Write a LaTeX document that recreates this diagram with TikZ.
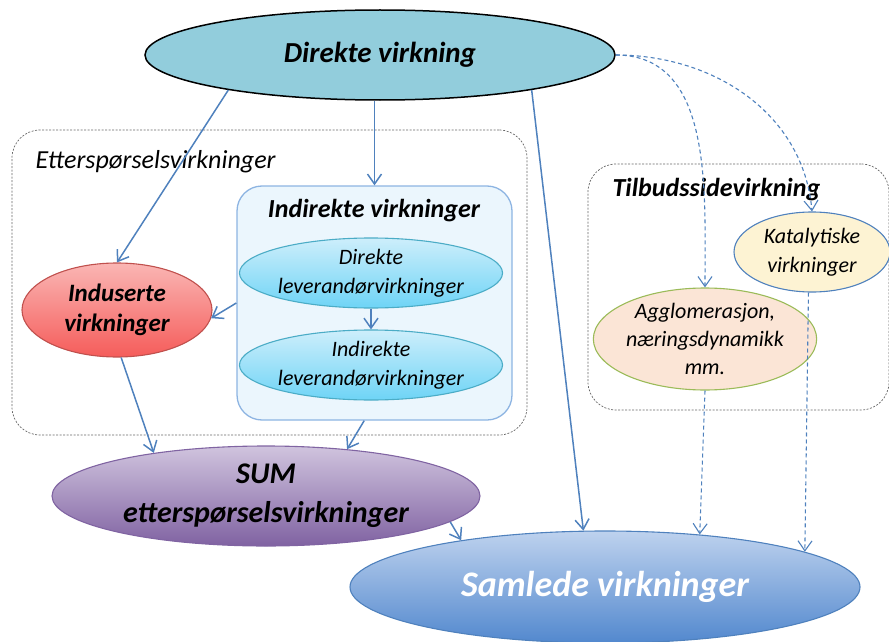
\documentclass[tikz,border=0pt]{standalone}
\usepackage{fontspec}
\setmainfont{Carlito}
\usetikzlibrary{arrows.meta,positioning,shapes.geometric}

\definecolor{arrowblue}{RGB}{79,129,189}
\definecolor{directfill}{RGB}{146,205,220}
\definecolor{boxfill}{RGB}{235,246,253}
\definecolor{boxline}{RGB}{141,180,226}
\definecolor{levtop}{RGB}{205,238,251}
\definecolor{levbottom}{RGB}{110,212,246}
\definecolor{levline}{RGB}{75,172,198}
\definecolor{redtop}{RGB}{250,182,180}
\definecolor{redbottom}{RGB}{245,92,90}
\definecolor{redline}{RGB}{192,80,77}
\definecolor{purpletop}{RGB}{208,196,222}
\definecolor{purplebottom}{RGB}{128,98,162}
\definecolor{purpleline}{RGB}{128,100,162}
\definecolor{totaltop}{RGB}{190,210,238}
\definecolor{totalbottom}{RGB}{82,136,206}
\definecolor{katalfill}{RGB}{253,243,211}
\definecolor{agglofill}{RGB}{251,229,214}
\definecolor{aggloline}{RGB}{155,187,89}

\begin{document}
\begin{tikzpicture}
	[x=1pt,y=-1pt,>={Straight Barb[length=10pt,width=14pt]},
	effect/.style={draw,shape=ellipse,inner sep=0pt,align=center,line width=1.1pt},
	group/.style={draw=black!60,dash pattern=on 2pt off 1.5pt,rounded corners=28pt,line width=0.7pt},
	flow/.style={->,draw=arrowblue,line width=1.5pt},
	supplyflow/.style={->,draw=arrowblue,dash pattern=on 4pt off 3pt,line width=1.1pt}]
	\useasboundingbox (0,0) rectangle (889,642);
	
	\node[group,minimum width=515pt,minimum height=305pt] (demand) at (269.5,282.5) {};
	\node[anchor=west,font=\fontsize{26}{30}\selectfont\itshape] (demandlabel) at (32,162) {Etterspørselsvirkninger};
	\node[group,minimum width=301pt,minimum height=246pt] (supply) at (738.5,287) {};
	\node[anchor=west,font=\fontsize{26}{30}\selectfont\bfseries\itshape] (supplylabel) at (609,190) {Tilbudssidevirkning};
	
	\node[draw=boxline,fill=boxfill,rounded corners=25pt,line width=1.3pt,minimum width=275pt,minimum height=234pt] (indirect) at (374.5,303) {};
	\node[font=\fontsize{26}{30}\selectfont\bfseries\itshape] (indirectlabel) at (374,211) {Indirekte virkninger};
	
	\node[effect,draw=black,fill=directfill,line width=1.5pt,minimum width=470pt,minimum height=90pt,font=\fontsize{29}{34}\selectfont\bfseries\itshape] (direct) at (380,55) {Direkte virkning};
	\node[effect,draw=levline,top color=levtop,bottom color=levbottom,minimum width=248pt,minimum height=70pt,font=\fontsize{22}{29}\selectfont\itshape] (lev1) at (371,273) {Direkte\\leverandørvirkninger};
	\node[effect,draw=levline,top color=levtop,bottom color=levbottom,minimum width=248pt,minimum height=70pt,font=\fontsize{22}{29}\selectfont\itshape] (lev2) at (371,365) {Indirekte\\leverandørvirkninger};
	\node[effect,draw=redline,top color=redtop,bottom color=redbottom,minimum width=190pt,minimum height=94pt,font=\fontsize{25}{30}\selectfont\bfseries\itshape] (induced) at (117,310) {Induserte\\virkninger};
	\node[effect,draw=purpleline,top color=purpletop,bottom color=purplebottom,minimum width=428pt,minimum height=100pt,font=\fontsize{30}{39}\selectfont\bfseries\itshape] (sum) at (266,496) {SUM\\etterspørselsvirkninger};
	\node[effect,draw=arrowblue,top color=totaltop,bottom color=totalbottom,minimum width=510pt,minimum height=112pt,text=white,font=\fontsize{36}{40}\selectfont\bfseries\itshape] (total) at (605,587) {Samlede virkninger};
	\node[effect,draw=arrowblue,fill=katalfill,minimum width=156pt,minimum height=80pt,font=\fontsize{22}{29}\selectfont\itshape] (katal) at (812,252) {Katalytiske\\virkninger};
	\node[effect,draw=aggloline,fill=agglofill,minimum width=216pt,minimum height=102pt,font=\fontsize{22}{28}\selectfont\itshape] (agglo) at (705,339) {Agglomerasjon,\\næringsdynamikk\\mm.};
	
	\draw[flow] (direct.193) -- (induced.north);
	\draw[flow] (indirect.north |- direct.south) -- (indirect.north);
	\draw[flow] (direct.347) -- (total.111);
	\draw[flow] (indirect.west) -- (induced.-5);
	\draw[flow] (lev1.south) -- (lev2.north);
	\draw[flow] (induced.-85) -- (sum.159);
	\draw[flow] (indirect.265) -- (sum.30);
	\draw[flow] (sum.-8) -- (total.162);
	
	\draw[supplyflow] (direct.east) to[out=0,in=90] (agglo.north);
	\draw[supplyflow] (direct.east) to[out=0,in=95] (katal.north);
	\draw[supplyflow] (agglo.south) -- (total.29);
	\draw[supplyflow] (katal.-95) -- (total.10);
	\end{tikzpicture}
\end{document}
